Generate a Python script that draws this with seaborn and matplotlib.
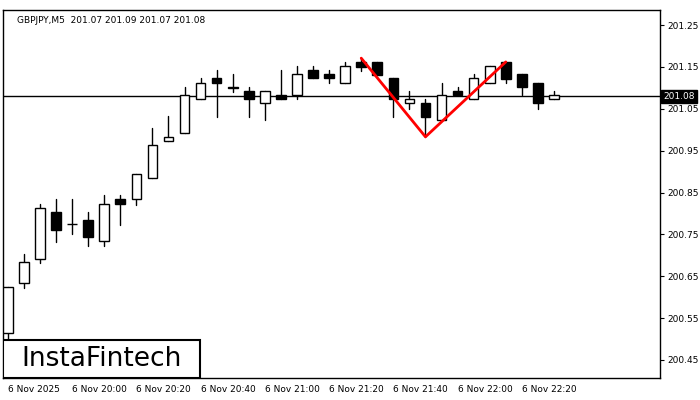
import matplotlib
matplotlib.use("Agg")
import matplotlib.pyplot as plt
from matplotlib.patches import Rectangle
import seaborn as sns

sns.set_style("white")
plt.rcParams["font.family"] = ["DejaVu Sans"]
plt.rcParams["text.color"] = "black"
plt.rcParams["xtick.color"] = "black"
plt.rcParams["ytick.color"] = "black"

opens = [200.515, 200.634, 200.691, 200.803, 200.776, 200.784, 200.734, 200.834, 200.834, 200.885,
         200.973, 200.992, 201.073, 201.123, 201.102, 201.092, 201.064, 201.083, 201.083, 201.142,
         201.133, 201.111, 201.162, 201.162, 201.123, 201.064, 201.064, 201.023, 201.092, 201.073,
         201.111, 201.162, 201.133, 201.111, 201.073]
highs = [200.624, 200.703, 200.823, 200.834, 200.834, 200.803, 200.844, 200.844, 200.894, 201.004,
         201.033, 201.102, 201.123, 201.142, 201.133, 201.102, 201.092, 201.142, 201.152, 201.152,
         201.142, 201.162, 201.171, 201.162, 201.123, 201.092, 201.073, 201.111, 201.102, 201.133,
         201.152, 201.162, 201.133, 201.111, 201.092]
lows = [200.498, 200.622, 200.682, 200.732, 200.751, 200.722, 200.722, 200.772, 200.820, 200.885,
        200.973, 200.992, 201.073, 201.030, 201.090, 201.030, 201.023, 201.073, 201.073, 201.123,
        201.111, 201.111, 201.140, 201.131, 201.030, 201.049, 200.983, 201.023, 201.083, 201.073,
        201.111, 201.111, 201.083, 201.049, 201.073]
closes = [200.624, 200.684, 200.813, 200.760, 200.774, 200.744, 200.823, 200.823, 200.894, 200.963,
          200.982, 201.083, 201.111, 201.111, 201.100, 201.073, 201.092, 201.073, 201.133, 201.123,
          201.123, 201.152, 201.150, 201.131, 201.073, 201.073, 201.030, 201.083, 201.083, 201.123,
          201.152, 201.121, 201.102, 201.064, 201.083]
tick_idx = [0, 4, 8, 12, 16, 20, 24, 28, 32]
tick_labels = ["6 Nov 2025", "6 Nov 20:00", "6 Nov 20:20", "6 Nov 20:40", "6 Nov 21:00",
               "6 Nov 21:20", "6 Nov 21:40", "6 Nov 22:00", "6 Nov 22:20"]
y_ticks = [200.45, 200.55, 200.65, 200.75, 200.85, 200.95, 201.05, 201.15, 201.25]
pattern_x = [22, 26, 31]
pattern_y = [201.171, 200.983, 201.162]
last_price = 201.08

fig = plt.figure(figsize=(7, 4), dpi=100)
ax = fig.add_axes([3 / 700, 22 / 400, 657 / 700, 368 / 400])

for i, (o, h, l, c) in enumerate(zip(opens, highs, lows, closes)):
    ax.plot([i, i], [l, h], color="black", lw=1, zorder=2)
    color = "white" if c >= o else "black"
    body = max(abs(c - o), 0.001)
    ax.add_patch(Rectangle((i - 0.3, min(o, c)), 0.6, body, facecolor=color,
                           edgecolor="black", lw=1, zorder=3))

ax.axhline(last_price, color="black", lw=1, zorder=1)
sns.lineplot(x=pattern_x, y=pattern_y, color="red", lw=2, ax=ax, zorder=4)

ax.set_xlim(-0.3, 40.6)
ax.set_ylim(200.407, 201.286)
ax.yaxis.tick_right()
ax.set_yticks(y_ticks)
ax.set_yticklabels([f"{v:.2f}" for v in y_ticks], fontsize=6.5)
ax.set_xticks(tick_idx)
ax.set_xticklabels(tick_labels, fontsize=6.5, ha="left")
ax.tick_params(axis="both", length=3, color="black", pad=2)
for s in ax.spines.values():
    s.set_color("black")
    s.set_linewidth(1)

ax.text(1.005, last_price, f"{last_price:.2f}", transform=ax.get_yaxis_transform(),
        fontsize=6.5, color="white", va="center", ha="left",
        bbox=dict(boxstyle="square,pad=0.2", fc="black", ec="black"))

ax.text(0.022, 0.985, "GBPJPY,M5  201.07 201.09 201.07 201.08", transform=ax.transAxes,
        fontsize=6.5, va="top", ha="left")

ax.add_patch(Rectangle((0, 0), 197 / 657, 38 / 368, transform=ax.transAxes,
                       facecolor="white", edgecolor="black", lw=1.5, zorder=5))
ax.text(0.028, 19 / 368, "InstaFintech", transform=ax.transAxes, fontsize=19,
        va="center", ha="left", zorder=6)

fig.savefig("out.png")
